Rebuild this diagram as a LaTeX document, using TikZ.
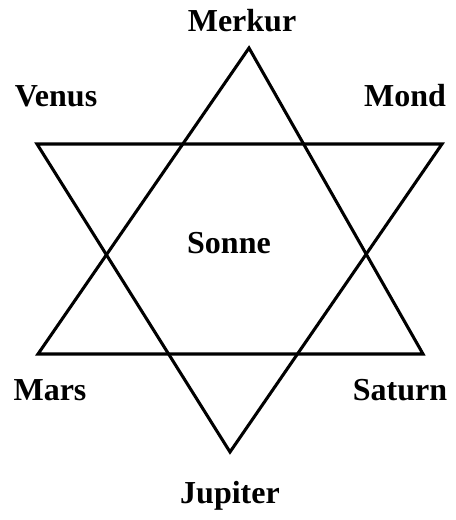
\documentclass[tikz,border=0pt]{standalone}
\usepackage{fontspec}
\setmainfont{Liberation Serif}
\begin{document}
\begin{tikzpicture}[x=0.75pt,y=-0.75pt,
  lbl/.style={font=\fontsize{24}{28}\selectfont\bfseries, anchor=base, inner sep=0pt},
  edge/.style={line width=2.3pt, line join=miter}]
\useasboundingbox (0,0) rectangle (455,520);
% up triangle
\coordinate (T) at (249,48);
\coordinate (BL) at (38,354);
\coordinate (BR) at (423,354);
% down triangle
\coordinate (TL) at (37,144);
\coordinate (TR) at (442,144);
\coordinate (B) at (230,452);
\draw[edge] (T) -- (BL) -- (BR) -- cycle;
\draw[edge] (TL) -- (TR) -- (B) -- cycle;
\node[lbl] (merkur) at (242,32) {Merkur};
\node[lbl] (venus) at (56,107) {Venus};
\node[lbl] (mond) at (405,107) {Mond};
\node[lbl] (sonne) at (229,253) {Sonne};
\node[lbl] (mars) at (50,400) {Mars};
\node[lbl] (saturn) at (400,400) {Saturn};
\node[lbl] (jupiter) at (230,503) {Jupiter};
\end{tikzpicture}
\end{document}
